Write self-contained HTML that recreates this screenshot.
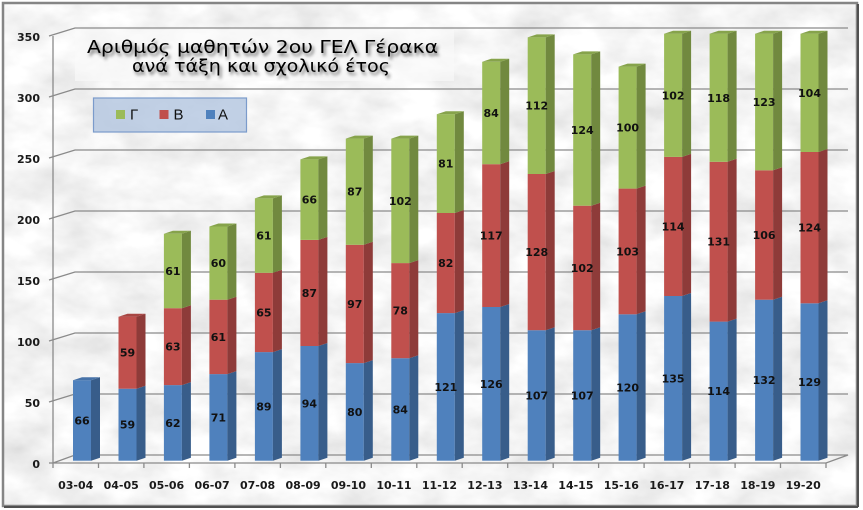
<!DOCTYPE html>
<html><head><meta charset="utf-8"><style>
html,body{margin:0;padding:0;background:#fff;}
svg{display:block;}
</style></head><body>
<svg width="863" height="510" viewBox="0 0 863 510" xmlns="http://www.w3.org/2000/svg">
<defs>
<filter id="marble" x="0" y="0" width="100%" height="100%">
<feTurbulence type="fractalNoise" baseFrequency="0.018 0.03" numOctaves="4" seed="7" result="n"/>
<feColorMatrix type="matrix" values="0.42 0 0 0 0.7  0.42 0 0 0 0.7  0.42 0 0 0 0.7  0 0 0 0 1"/>
</filter>
<filter id="blur" x="-5%" y="-20%" width="110%" height="140%"><feGaussianBlur stdDeviation="1.6"/></filter>
</defs>
<rect x="0" y="0" width="863" height="510" fill="#fff"/>
<rect x="3" y="3" width="854" height="503" fill="#e8e8e8"/>
<rect x="3" y="3" width="854" height="503" filter="url(#marble)"/>
<rect x="3" y="3" width="854" height="503" fill="none" stroke="#858585" stroke-width="2.5"/>
<line x1="858" y1="4" x2="858" y2="507" stroke="#505050" stroke-width="2"/>
<line x1="4" y1="507" x2="858" y2="507" stroke="#505050" stroke-width="2"/>

<!-- grid -->
<g fill="none" stroke="#8a8a8a" stroke-width="1.3">
<polyline points="49,402 75,394 848,394"/>
<polyline points="49,341 75,333 848,333"/>
<polyline points="49,280 75,272 848,272"/>
<polyline points="49,219 75,211 848,211"/>
<polyline points="49,158 75,150 848,150"/>
<polyline points="49,97 75,89 848,89"/>
<polyline points="49,36 75,28 848,28"/>
<polygon points="53,463 75,455 848,455 826,463"/>
<line x1="49" y1="463" x2="53" y2="463"/>
<line x1="53" y1="36" x2="53" y2="463"/>
</g>
<g stroke="#8a8a8a" stroke-width="1.3">
<line x1="53" y1="463" x2="53" y2="468"/><line x1="98.5" y1="463" x2="98.5" y2="468"/><line x1="143.9" y1="463" x2="143.9" y2="468"/><line x1="189.4" y1="463" x2="189.4" y2="468"/><line x1="234.9" y1="463" x2="234.9" y2="468"/><line x1="280.4" y1="463" x2="280.4" y2="468"/><line x1="325.8" y1="463" x2="325.8" y2="468"/><line x1="371.3" y1="463" x2="371.3" y2="468"/><line x1="416.8" y1="463" x2="416.8" y2="468"/><line x1="462.2" y1="463" x2="462.2" y2="468"/><line x1="507.7" y1="463" x2="507.7" y2="468"/><line x1="553.2" y1="463" x2="553.2" y2="468"/><line x1="598.6" y1="463" x2="598.6" y2="468"/><line x1="644.1" y1="463" x2="644.1" y2="468"/><line x1="689.6" y1="463" x2="689.6" y2="468"/><line x1="735.1" y1="463" x2="735.1" y2="468"/><line x1="780.5" y1="463" x2="780.5" y2="468"/><line x1="826" y1="463" x2="826" y2="468"/>
</g>

<!-- y labels -->
<g font-family="'DejaVu Sans', 'Liberation Sans', sans-serif" font-weight="bold" font-size="11" fill="#1a1a1a" text-anchor="end">
<text x="40" y="468">0</text>
<text x="40" y="407">50</text>
<text x="40" y="346">100</text>
<text x="40" y="285">150</text>
<text x="40" y="224">200</text>
<text x="40" y="163">250</text>
<text x="40" y="102">300</text>
<text x="40" y="41">350</text>
</g>

<!-- x labels -->
<g font-family="'DejaVu Sans', 'Liberation Sans', sans-serif" font-weight="bold" font-size="11" fill="#1a1a1a" text-anchor="middle">
<text x="75.7" y="489">03-04</text>
<text x="121.2" y="489">04-05</text>
<text x="166.6" y="489">05-06</text>
<text x="212.1" y="489">06-07</text>
<text x="257.6" y="489">07-08</text>
<text x="303.1" y="489">08-09</text>
<text x="348.5" y="489">09-10</text>
<text x="394" y="489">10-11</text>
<text x="439.5" y="489">11-12</text>
<text x="484.9" y="489">12-13</text>
<text x="530.4" y="489">13-14</text>
<text x="575.9" y="489">14-15</text>
<text x="621.3" y="489">15-16</text>
<text x="666.8" y="489">16-17</text>
<text x="712.3" y="489">17-18</text>
<text x="757.8" y="489">18-19</text>
<text x="803.2" y="489">19-20</text>
</g>

<!-- bars -->
<g>
<rect x="73" y="380.2" width="18" height="80.5" fill="#4F81BD"/>
<polygon points="91,460.7 100,457.7 100,377.2 91,380.2" fill="#385D8A"/>
<polygon points="73,380.2 82,377.2 100,377.2 91,380.2" fill="#4672A8"/>
</g>
<g>
<rect x="118.5" y="388.7" width="18" height="72" fill="#4F81BD"/>
<polygon points="136.5,460.7 145.5,457.7 145.5,385.7 136.5,388.7" fill="#385D8A"/>
<rect x="118.5" y="316.7" width="18" height="72" fill="#C0504D"/>
<polygon points="136.5,388.7 145.5,385.7 145.5,313.7 136.5,316.7" fill="#8E3B39"/>
<polygon points="118.5,316.7 127.5,313.7 145.5,313.7 136.5,316.7" fill="#A84643"/>
</g>
<g>
<rect x="163.9" y="385.1" width="18" height="75.6" fill="#4F81BD"/>
<polygon points="181.9,460.7 190.9,457.7 190.9,382.1 181.9,385.1" fill="#385D8A"/>
<rect x="163.9" y="308.2" width="18" height="76.9" fill="#C0504D"/>
<polygon points="181.9,385.1 190.9,382.1 190.9,305.2 181.9,308.2" fill="#8E3B39"/>
<rect x="163.9" y="233.8" width="18" height="74.4" fill="#9BBB59"/>
<polygon points="181.9,308.2 190.9,305.2 190.9,230.8 181.9,233.8" fill="#71893F"/>
<polygon points="163.9,233.8 172.9,230.8 190.9,230.8 181.9,233.8" fill="#86A34B"/>
</g>
<g>
<rect x="209.4" y="374.1" width="18" height="86.6" fill="#4F81BD"/>
<polygon points="227.4,460.7 236.4,457.7 236.4,371.1 227.4,374.1" fill="#385D8A"/>
<rect x="209.4" y="299.7" width="18" height="74.4" fill="#C0504D"/>
<polygon points="227.4,374.1 236.4,371.1 236.4,296.7 227.4,299.7" fill="#8E3B39"/>
<rect x="209.4" y="226.5" width="18" height="73.2" fill="#9BBB59"/>
<polygon points="227.4,299.7 236.4,296.7 236.4,223.5 227.4,226.5" fill="#71893F"/>
<polygon points="209.4,226.5 218.4,223.5 236.4,223.5 227.4,226.5" fill="#86A34B"/>
</g>
<g>
<rect x="254.9" y="352.1" width="18" height="108.6" fill="#4F81BD"/>
<polygon points="272.9,460.7 281.9,457.7 281.9,349.1 272.9,352.1" fill="#385D8A"/>
<rect x="254.9" y="272.8" width="18" height="79.3" fill="#C0504D"/>
<polygon points="272.9,352.1 281.9,349.1 281.9,269.8 272.9,272.8" fill="#8E3B39"/>
<rect x="254.9" y="198.4" width="18" height="74.4" fill="#9BBB59"/>
<polygon points="272.9,272.8 281.9,269.8 281.9,195.4 272.9,198.4" fill="#71893F"/>
<polygon points="254.9,198.4 263.9,195.4 281.9,195.4 272.9,198.4" fill="#86A34B"/>
</g>
<g>
<rect x="300.4" y="346" width="18" height="114.7" fill="#4F81BD"/>
<polygon points="318.4,460.7 327.4,457.7 327.4,343 318.4,346" fill="#385D8A"/>
<rect x="300.4" y="239.9" width="18" height="106.1" fill="#C0504D"/>
<polygon points="318.4,346 327.4,343 327.4,236.9 318.4,239.9" fill="#8E3B39"/>
<rect x="300.4" y="159.4" width="18" height="80.5" fill="#9BBB59"/>
<polygon points="318.4,239.9 327.4,236.9 327.4,156.4 318.4,159.4" fill="#71893F"/>
<polygon points="300.4,159.4 309.4,156.4 327.4,156.4 318.4,159.4" fill="#86A34B"/>
</g>
<g>
<rect x="345.8" y="363.1" width="18" height="97.6" fill="#4F81BD"/>
<polygon points="363.8,460.7 372.8,457.7 372.8,360.1 363.8,363.1" fill="#385D8A"/>
<rect x="345.8" y="244.8" width="18" height="118.3" fill="#C0504D"/>
<polygon points="363.8,363.1 372.8,360.1 372.8,241.8 363.8,244.8" fill="#8E3B39"/>
<rect x="345.8" y="138.6" width="18" height="106.2" fill="#9BBB59"/>
<polygon points="363.8,244.8 372.8,241.8 372.8,135.6 363.8,138.6" fill="#71893F"/>
<polygon points="345.8,138.6 354.8,135.6 372.8,135.6 363.8,138.6" fill="#86A34B"/>
</g>
<g>
<rect x="391.3" y="358.2" width="18" height="102.5" fill="#4F81BD"/>
<polygon points="409.3,460.7 418.3,457.7 418.3,355.2 409.3,358.2" fill="#385D8A"/>
<rect x="391.3" y="263.1" width="18" height="95.1" fill="#C0504D"/>
<polygon points="409.3,358.2 418.3,355.2 418.3,260.1 409.3,263.1" fill="#8E3B39"/>
<rect x="391.3" y="138.6" width="18" height="124.5" fill="#9BBB59"/>
<polygon points="409.3,263.1 418.3,260.1 418.3,135.6 409.3,138.6" fill="#71893F"/>
<polygon points="391.3,138.6 400.3,135.6 418.3,135.6 409.3,138.6" fill="#86A34B"/>
</g>
<g>
<rect x="436.8" y="313.1" width="18" height="147.6" fill="#4F81BD"/>
<polygon points="454.8,460.7 463.8,457.7 463.8,310.1 454.8,313.1" fill="#385D8A"/>
<rect x="436.8" y="213" width="18" height="100.1" fill="#C0504D"/>
<polygon points="454.8,313.1 463.8,310.1 463.8,210 454.8,213" fill="#8E3B39"/>
<rect x="436.8" y="114.2" width="18" height="98.8" fill="#9BBB59"/>
<polygon points="454.8,213 463.8,210 463.8,111.2 454.8,114.2" fill="#71893F"/>
<polygon points="436.8,114.2 445.8,111.2 463.8,111.2 454.8,114.2" fill="#86A34B"/>
</g>
<g>
<rect x="482.2" y="307" width="18" height="153.7" fill="#4F81BD"/>
<polygon points="500.2,460.7 509.2,457.7 509.2,304 500.2,307" fill="#385D8A"/>
<rect x="482.2" y="164.2" width="18" height="142.8" fill="#C0504D"/>
<polygon points="500.2,307 509.2,304 509.2,161.2 500.2,164.2" fill="#8E3B39"/>
<rect x="482.2" y="61.8" width="18" height="102.4" fill="#9BBB59"/>
<polygon points="500.2,164.2 509.2,161.2 509.2,58.8 500.2,61.8" fill="#71893F"/>
<polygon points="482.2,61.8 491.2,58.8 509.2,58.8 500.2,61.8" fill="#86A34B"/>
</g>
<g>
<rect x="527.7" y="330.2" width="18" height="130.5" fill="#4F81BD"/>
<polygon points="545.7,460.7 554.7,457.7 554.7,327.2 545.7,330.2" fill="#385D8A"/>
<rect x="527.7" y="174" width="18" height="156.2" fill="#C0504D"/>
<polygon points="545.7,330.2 554.7,327.2 554.7,171 545.7,174" fill="#8E3B39"/>
<rect x="527.7" y="37.4" width="18" height="136.6" fill="#9BBB59"/>
<polygon points="545.7,174 554.7,171 554.7,34.4 545.7,37.4" fill="#71893F"/>
<polygon points="527.7,37.4 536.7,34.4 554.7,34.4 545.7,37.4" fill="#86A34B"/>
</g>
<g>
<rect x="573.2" y="330.2" width="18" height="130.5" fill="#4F81BD"/>
<polygon points="591.2,460.7 600.2,457.7 600.2,327.2 591.2,330.2" fill="#385D8A"/>
<rect x="573.2" y="205.7" width="18" height="124.5" fill="#C0504D"/>
<polygon points="591.2,330.2 600.2,327.2 600.2,202.7 591.2,205.7" fill="#8E3B39"/>
<rect x="573.2" y="54.4" width="18" height="151.3" fill="#9BBB59"/>
<polygon points="591.2,205.7 600.2,202.7 600.2,51.4 591.2,54.4" fill="#71893F"/>
<polygon points="573.2,54.4 582.2,51.4 600.2,51.4 591.2,54.4" fill="#86A34B"/>
</g>
<g>
<rect x="618.6" y="314.3" width="18" height="146.4" fill="#4F81BD"/>
<polygon points="636.6,460.7 645.6,457.7 645.6,311.3 636.6,314.3" fill="#385D8A"/>
<rect x="618.6" y="188.6" width="18" height="125.7" fill="#C0504D"/>
<polygon points="636.6,314.3 645.6,311.3 645.6,185.6 636.6,188.6" fill="#8E3B39"/>
<rect x="618.6" y="66.6" width="18" height="122" fill="#9BBB59"/>
<polygon points="636.6,188.6 645.6,185.6 645.6,63.6 636.6,66.6" fill="#71893F"/>
<polygon points="618.6,66.6 627.6,63.6 645.6,63.6 636.6,66.6" fill="#86A34B"/>
</g>
<g>
<rect x="664.1" y="296" width="18" height="164.7" fill="#4F81BD"/>
<polygon points="682.1,460.7 691.1,457.7 691.1,293 682.1,296" fill="#385D8A"/>
<rect x="664.1" y="156.9" width="18" height="139.1" fill="#C0504D"/>
<polygon points="682.1,296 691.1,293 691.1,153.9 682.1,156.9" fill="#8E3B39"/>
<rect x="664.1" y="33.7" width="18" height="123.2" fill="#9BBB59"/>
<polygon points="682.1,156.9 691.1,153.9 691.1,30.7 682.1,33.7" fill="#71893F"/>
<polygon points="664.1,33.7 673.1,30.7 691.1,30.7 682.1,33.7" fill="#86A34B"/>
</g>
<g>
<rect x="709.6" y="321.6" width="18" height="139.1" fill="#4F81BD"/>
<polygon points="727.6,460.7 736.6,457.7 736.6,318.6 727.6,321.6" fill="#385D8A"/>
<rect x="709.6" y="161.8" width="18" height="159.8" fill="#C0504D"/>
<polygon points="727.6,321.6 736.6,318.6 736.6,158.8 727.6,161.8" fill="#8E3B39"/>
<rect x="709.6" y="33.7" width="18" height="128.1" fill="#9BBB59"/>
<polygon points="727.6,161.8 736.6,158.8 736.6,30.7 727.6,33.7" fill="#71893F"/>
<polygon points="709.6,33.7 718.6,30.7 736.6,30.7 727.6,33.7" fill="#86A34B"/>
</g>
<g>
<rect x="755.1" y="299.7" width="18" height="161" fill="#4F81BD"/>
<polygon points="773.1,460.7 782.1,457.7 782.1,296.7 773.1,299.7" fill="#385D8A"/>
<rect x="755.1" y="170.3" width="18" height="129.4" fill="#C0504D"/>
<polygon points="773.1,299.7 782.1,296.7 782.1,167.3 773.1,170.3" fill="#8E3B39"/>
<rect x="755.1" y="33.7" width="18" height="136.6" fill="#9BBB59"/>
<polygon points="773.1,170.3 782.1,167.3 782.1,30.7 773.1,33.7" fill="#71893F"/>
<polygon points="755.1,33.7 764.1,30.7 782.1,30.7 773.1,33.7" fill="#86A34B"/>
</g>
<g>
<rect x="800.5" y="303.3" width="18" height="157.4" fill="#4F81BD"/>
<polygon points="818.5,460.7 827.5,457.7 827.5,300.3 818.5,303.3" fill="#385D8A"/>
<rect x="800.5" y="152" width="18" height="151.3" fill="#C0504D"/>
<polygon points="818.5,303.3 827.5,300.3 827.5,149 818.5,152" fill="#8E3B39"/>
<rect x="800.5" y="33.7" width="18" height="118.3" fill="#9BBB59"/>
<polygon points="818.5,152 827.5,149 827.5,30.7 818.5,33.7" fill="#71893F"/>
<polygon points="800.5,33.7 809.5,30.7 827.5,30.7 818.5,33.7" fill="#86A34B"/>
</g>

<!-- data labels -->
<g font-family="'DejaVu Sans', 'Liberation Sans', sans-serif" font-weight="bold" font-size="11" fill="#111" text-anchor="middle">
<text x="82" y="424.4">66</text>
<text x="127.5" y="428.7">59</text><text x="127.5" y="356.7">59</text>
<text x="172.9" y="426.9">62</text><text x="172.9" y="350.6">63</text><text x="172.9" y="275">61</text>
<text x="218.4" y="421.4">71</text><text x="218.4" y="340.9">61</text><text x="218.4" y="267.1">60</text>
<text x="263.9" y="410.4">89</text><text x="263.9" y="316.5">65</text><text x="263.9" y="239.6">61</text>
<text x="309.4" y="407.4">94</text><text x="309.4" y="297">87</text><text x="309.4" y="203.6">66</text>
<text x="354.8" y="415.9">80</text><text x="354.8" y="307.9">97</text><text x="354.8" y="195.7">87</text>
<text x="400.3" y="413.5">84</text><text x="400.3" y="314.6">78</text><text x="400.3" y="204.8">102</text>
<text x="445.8" y="390.9">121</text><text x="445.8" y="267.1">82</text><text x="445.8" y="167.6">81</text>
<text x="491.2" y="387.8">126</text><text x="491.2" y="239.6">117</text><text x="491.2" y="117">84</text>
<text x="536.7" y="399.4">107</text><text x="536.7" y="256.1">128</text><text x="536.7" y="109.7">112</text>
<text x="582.2" y="399.4">107</text><text x="582.2" y="271.9">102</text><text x="582.2" y="134.1">124</text>
<text x="627.6" y="391.5">120</text><text x="627.6" y="255.5">103</text><text x="627.6" y="131.6">100</text>
<text x="673.1" y="382.4">135</text><text x="673.1" y="230.5">114</text><text x="673.1" y="99.3">102</text>
<text x="718.6" y="395.2">114</text><text x="718.6" y="245.7">131</text><text x="718.6" y="101.8">118</text>
<text x="764.1" y="384.2">132</text><text x="764.1" y="239">106</text><text x="764.1" y="106">123</text>
<text x="809.5" y="386">129</text><text x="809.5" y="231.7">124</text><text x="809.5" y="96.9">104</text>
</g>

<!-- title -->
<rect x="75" y="30" width="379" height="51" fill="#fafafa" fill-opacity="0.6"/>
<g font-family="'DejaVu Sans', 'Liberation Sans', sans-serif" font-size="18" fill="#3a3a3a" filter="url(#blur)" opacity="0.75">
<text x="89" y="56" textLength="351" lengthAdjust="spacingAndGlyphs">Αριθμός  μαθητών 2ου ΓΕΛ Γέρακα</text>
<text x="134" y="75" textLength="258" lengthAdjust="spacingAndGlyphs">ανά τάξη και σχολικό έτος</text>
</g>
<g font-family="'DejaVu Sans', 'Liberation Sans', sans-serif" font-size="18" fill="#000">
<text x="87" y="53" textLength="351" lengthAdjust="spacingAndGlyphs">Αριθμός  μαθητών 2ου ΓΕΛ Γέρακα</text>
<text x="132" y="72" textLength="258" lengthAdjust="spacingAndGlyphs">ανά τάξη και σχολικό έτος</text>
</g>

<!-- legend -->
<rect x="93.5" y="98" width="153" height="34" fill="#b3c6e0" fill-opacity="0.8" stroke="#7b9bcb" stroke-width="1.2"/>
<rect x="116" y="110" width="9" height="9" fill="#9BBB59"/>
<rect x="159.5" y="110" width="9" height="9" fill="#C0504D"/>
<rect x="206" y="110" width="9" height="9" fill="#4F81BD"/>
<g font-family="'Liberation Sans', 'DejaVu Sans', sans-serif" font-size="15" fill="#111">
<text x="130" y="119.5">Γ</text>
<text x="173.5" y="119.5">Β</text>
<text x="218" y="119.5">Α</text>
</g>
</svg>
</body></html>
